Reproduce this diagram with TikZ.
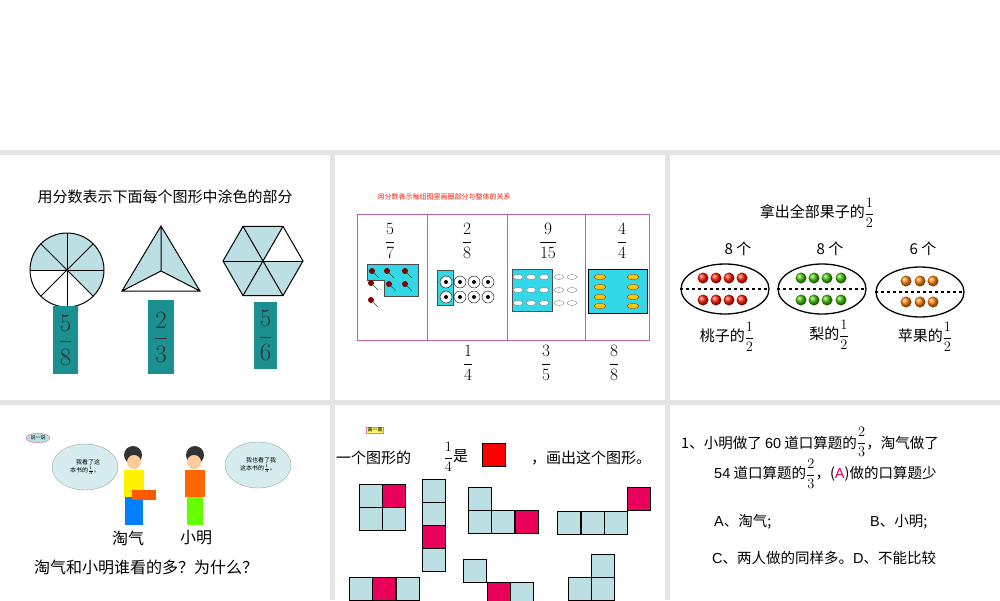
\documentclass[tikz,border=0pt]{standalone}
\usepackage{fontspec}
\usepackage{amsmath}
\newfontfamily\cjk{Noto Sans CJK SC}
\setsansfont{Liberation Sans}
\usetikzlibrary{shapes.geometric}
\definecolor{lb}{HTML}{BCDFE3}
\definecolor{pk}{HTML}{E8005A}
\definecolor{tl}{HTML}{1A9090}
\definecolor{cy}{HTML}{33D8E8}
\definecolor{bd}{HTML}{C060A0}
\definecolor{gr}{HTML}{E4E4E4}
\tikzset{
 cell/.style={draw=black,line width=0.9pt,fill=lb,minimum size=23pt,inner sep=0,anchor=north west},
 pcell/.style={cell,fill=pk},
 tbox/.style={fill=tl,inner sep=0,anchor=north west},
 cn/.style={font=\cjk\fontsize{15}{17}\selectfont,inner sep=1pt},
 fr/.style={font=\fontsize{17}{19}\selectfont,inner sep=0},
 oval/.style={ellipse,draw,line width=1.3pt,minimum width=88pt,minimum height=50pt},
 fruit/.style={circle,inner sep=0,minimum size=11pt},
 cloud/.style={ellipse,fill=lb!60,draw=lb!40!gray,minimum width=66pt,minimum height=46pt,font=\cjk\fontsize{6}{8}\selectfont,align=left,inner sep=0},
}
\begin{document}
\begin{tikzpicture}[x=1pt,y=-1pt]
\useasboundingbox (0,0) rectangle (1000,600);
\fill[gr] (0,0) rectangle (1000,600);
\fill[white] (0,0) rectangle (1000,150);
\foreach \x in {0,335,670}{\foreach \y/\h in {155/245,405/195}{\fill[white] (\x,\y) rectangle ++(330,\h);}}
% ---- panel 1
\node[cn] (t1) at (165,197) {用分数表示下面每个图形中涂色的部分};
\coordinate (c1) at (67,270);
\fill[lb] (67,270) -- (93.16,296.16) arc[start angle=45,end angle=-180,radius=37] -- cycle;
\fill[white] (c1) -- (30,270) arc[start angle=-180,end angle=-315,radius=37] -- cycle;
\draw[line width=1pt] (c1) circle (37);
\foreach \a in {0,45,...,315}{\draw[line width=1pt] (c1) -- ++(\a:37);}
\fill (c1) circle (1.5);
\coordinate (ta) at (161,226); \coordinate (tb) at (122,291); \coordinate (tc) at (200,291); \coordinate (tm) at (161,271);
\fill[lb] (ta) -- (tb) -- (tm) -- (tc) -- cycle;
\draw[line width=1pt] (ta) -- (tb) -- (tc) -- cycle (ta) -- (tm) (tb) -- (tm) -- (tc);
\coordinate (hc) at (263,261);
\fill[lb] (hc) ++(0:40) -- ++(120:40) -- ++(180:40) -- ++(240:40) -- ++(300:40) -- ++(0:40) -- ++(60:40) -- cycle;
\fill[white] (hc) -- ++(0:40) -- ++(240:40) -- cycle;
\draw[line width=1pt] (hc) ++(0:40) -- ++(120:40) -- ++(180:40) -- ++(240:40) -- ++(300:40) -- ++(0:40) -- ++(60:40) -- cycle;
\foreach \a in {0,60,...,300}{\draw[line width=1pt] (hc) -- ++(\a:40);}
\node[tbox,minimum width=25pt,minimum height=68pt] (b1) at (53,306) {};
\node[font=\fontsize{24}{26}\selectfont,text=black!80] at (b1) {$\dfrac{5}{8}$};
\node[tbox,minimum width=26pt,minimum height=74pt] (b2) at (148,300) {};
\node[font=\fontsize{24}{26}\selectfont,text=black!80] at (b2) {$\dfrac{2}{3}$};
\node[tbox,minimum width=23pt,minimum height=67pt] (b3) at (254,302) {};
\node[font=\fontsize{24}{26}\selectfont,text=black!80] at (b3) {$\dfrac{5}{6}$};
% ---- panel 2
\node[anchor=west,text=red!80!orange,font=\cjk\fontsize{7}{8}\selectfont] (t2) at (374,197) {用分数表示每组图里画圈部分与整体的关系};
\draw[bd,line width=0.8pt] (357,214) rectangle (649,340) (427,214) -- (427,340) (507,214) -- (507,340) (585,214) -- (585,340);
\foreach \x/\n/\d in {390/5/7,467/2/8,548/9/15,622/4/4}{\node[fr] at (\x,241) {$\dfrac{\n}{\d}$};}
\foreach \x/\n/\d in {468/1/4,546/3/5,614/8/8}{\node[fr] at (\x,363) {$\dfrac{\n}{\d}$};}
\fill[cy,draw=black!70,line width=0.8pt] (367,264) -- (418,264) -- (418,296) -- (384,296) -- (384,280) -- (367,280) -- cycle;
\foreach \p in {(372,271),(387,271),(405,271),(371,283),(389,284),(405,284),(371,300)}{\fill[red!50!black] \p circle (3); \draw[green!40!black] \p ++(2,2) -- ++(5,5);}
\fill[cy,draw=black!70,line width=0.8pt] (437,270) rectangle (453,305);
\foreach \x in {446,460,474,488}{\foreach \y in {282,297}{\draw[fill=white] (\x,\y) circle (6); \fill (\x,\y) circle (2);}}
\fill[cy,draw=black!70,line width=0.8pt] (512,269) rectangle (552,311);
\foreach \x in {518,531,544,559,572}{\foreach \y in {277,290,303}{\draw[gray,fill=white] (\x,\y) ellipse (5 and 2.5);}}
\fill[cy,draw=black,line width=0.8pt] (588,269) rectangle (647,313);
\foreach \x in {600,633}{\foreach \y in {277,287,297,306}{\draw[orange!60!black,fill=yellow!60!orange] (\x,\y) ellipse (6 and 2.5);}}
% ---- panel 3
\node[cn] (t3) at (817,213) {拿出全部果子的$\dfrac{1}{2}$};
\node[cn] at (738,249) {8 个}; \node[cn] at (830,249) {8 个}; \node[cn] at (923,249) {6 个};
\node[oval] (o1) at (725,289) {}; \node[oval] (o2) at (822,289) {}; \node[oval] (o3) at (920,292) {};
\foreach \x in {703,716,729,742}{\foreach \y in {278,300}{\node[fruit,ball color=red!80!orange] at (\x,\y) {};}}
\foreach \x in {801,814,827,841}{\foreach \y in {278,300}{\node[fruit,ball color=green!50!olive] at (\x,\y) {};}}
\foreach \x in {906,920,933}{\foreach \y in {281,302}{\node[fruit,ball color=orange] at (\x,\y) {};}}
\draw[line width=1.3pt,dashed] (o1.west) -- (o1.east) (o2.west) -- (o2.east) (o3.west) -- (o3.east);
\node[cn] (l31) at (727,337) {桃子的$\dfrac{1}{2}$};
\node[cn] (l32) at (829,335) {梨的$\dfrac{1}{2}$};
\node[cn] (l33) at (925,337) {苹果的$\dfrac{1}{2}$};
% ---- panel 4
\node[ellipse,fill=lb,draw=purple!60,font=\cjk\fontsize{5}{6}\selectfont,inner sep=1pt] (tag1) at (38,438) {说一说};
\node[cloud] (cl1) at (85,467) {\quad 我看了这\\本书的$\frac13$。};
\node[cloud] (cl2) at (258,465) {\quad 我也看了我\\这本书的$\frac13$。};
\fill[black!80] (133,455) circle (9); \fill[orange!40] (134,462) circle (7);
\fill[yellow] (124,470) rectangle (144,497); \fill[blue!50!cyan] (125,497) rectangle (143,525);
\fill[orange!70!red] (132,490) rectangle (156,500);
\fill[black!80] (195,455) circle (9); \fill[orange!40] (194,462) circle (7);
\fill[orange!80!red] (185,470) rectangle (205,497); \fill[green!60!yellow] (187,497) rectangle (203,525);
\node[cn,font=\cjk\fontsize{16}{18}\selectfont] (n1) at (128,538) {淘气};
\node[cn,font=\cjk\fontsize{16}{18}\selectfont] (n2) at (196,538) {小明};
\node[cn,font=\cjk\fontsize{16}{18}\selectfont,anchor=west] (q4) at (33,567) {淘气和小明谁看的多？为什么？};
% ---- panel 5
\node[fill=yellow!60,draw=purple!50,font=\cjk\fontsize{5}{6}\selectfont,inner sep=1pt] (tag2) at (375,430) {画一画};
\node[cn,anchor=west] (l5) at (335,458) {一个图形的};
\node[cn] (l5b) at (456,457) {$\dfrac{1}{4}$是};
\node[draw=black,fill=red,minimum size=23pt,inner sep=0,anchor=north west] (rs) at (482,443) {};
\node[cn,anchor=west] (l5c) at (530,458) {，画出这个图形。};
\foreach \x/\y in {359/484,359/507,382/507,422/479,422/502,422/548,468/487,468/510,491/510,557/511,581/511,604/511,349/577,396/577,463/559,510/582,591/554,591/577,568/577}{\node[cell] at (\x,\y) {};}
\foreach \x/\y in {382/484,422/525,515/510,627/487,372/577,487/582}{\node[pcell] at (\x,\y) {};}
% ---- panel 6
\tikzset{q/.style={anchor=west,font=\cjk\fontsize{14.5}{16}\selectfont,inner sep=0}}
\node[q] (p1) at (681,442) {1、小明做了 \textsf{60} 道口算题的\raisebox{2pt}{$\dfrac{2}{3}$}，淘气做了};
\node[q] (p2) at (714,474) {\textsf{54} 道口算题的$\dfrac{2}{3}$，(\textcolor{pk}{\textsf{A}})做的口算题少};
\node[q] (p3) at (714,522) {\textsf{A}、淘气;};
\node[q] (p4) at (870,522) {\textsf{B}、小明;};
\node[q] (p5) at (712,558) {\textsf{C}、两人做的同样多。\textsf{D}、不能比较};
\end{tikzpicture}
\end{document}
